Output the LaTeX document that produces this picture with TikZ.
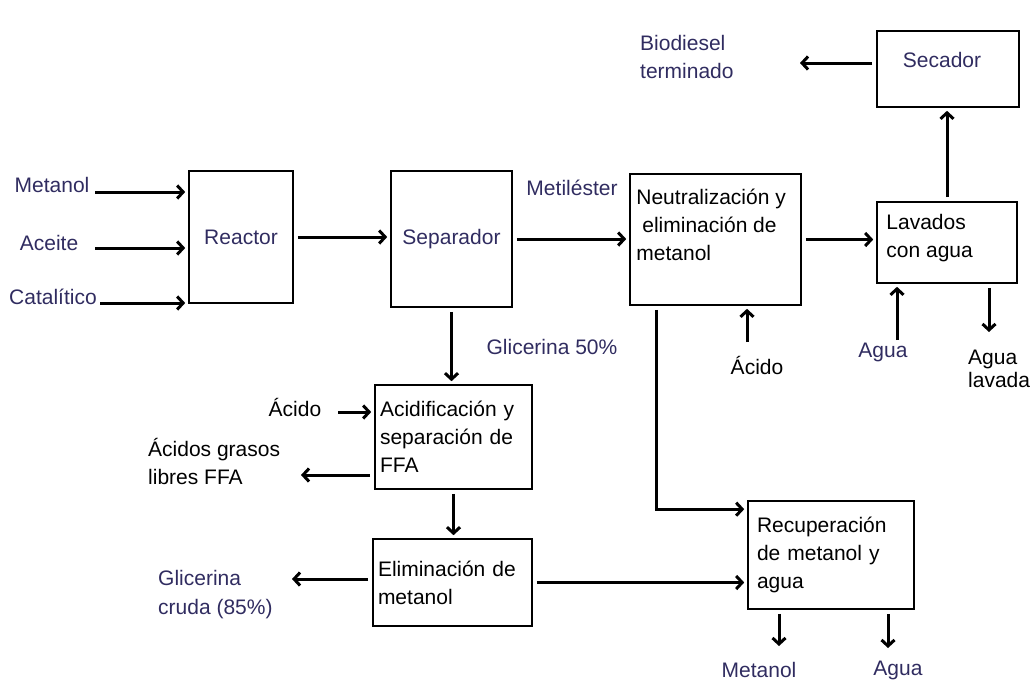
\documentclass[tikz,border=0pt]{standalone}
\usepackage{fontspec}
\setmainfont{Liberation Sans}
\usetikzlibrary{arrows.meta,positioning,calc}
\definecolor{navytxt}{RGB}{48,44,96}

\begin{document}
\begin{tikzpicture}[x=1pt,y=-1pt,
  font=\fontsize{21}{28}\selectfont,
  unit/.style={draw,line width=1.6pt,inner sep=0pt,align=left},
  lbl/.style={inner sep=0pt,align=left},
  flow/.style={line width=3pt,-{Straight Barb[length=6pt,width=13pt]}},
  tobox/.style={shorten >=3pt},
  frombox/.style={shorten <=4pt}]
\useasboundingbox (0,0) rectangle (1030,680);
% process units
\node[unit,text=navytxt,minimum width=104pt,minimum height=132pt] (reactor) at (241,237) {Reactor};
\node[unit,text=navytxt,minimum width=121pt,minimum height=136pt] (separador) at (451.5,239) {Separador};
\node[unit,minimum width=171pt,minimum height=131pt,
  label={[lbl,anchor=north west,xshift=7pt,yshift=-16pt]north west:{Neutralización y\\\hspace*{6pt}eliminación de\\metanol}}] (neutra) at (715.5,239.5) {};
\node[unit,minimum width=140pt,minimum height=81pt,
  label={[lbl,anchor=north west,xshift=10pt,yshift=-13pt]north west:{Lavados\\con agua}}] (lavados) at (947,242.5) {};
\node[unit,minimum width=142pt,minimum height=76pt,
  label={[lbl,text=navytxt,anchor=north,xshift=-6pt,yshift=-22pt]north:Secador}] (secador) at (948,69) {};
\node[unit,minimum width=157pt,minimum height=104pt,text width=147pt] (acid) at (453.5,437) {Acidificación y\\separación de\\FFA};
\node[unit,minimum width=159pt,minimum height=87pt,text width=149pt] (elim) at (452.5,582.5) {Eliminación de\\metanol};
\node[unit,minimum width=166pt,minimum height=108pt,text width=148pt] (recup) at (831,555) {Recuperación\\de metanol y\\agua};

% stream labels
\node[lbl,text=navytxt] (lmet) at (52,185) {Metanol};
\node[lbl,text=navytxt] (lace) at (49,243) {Aceite};
\node[lbl,text=navytxt] (lcat) at (53,297) {Catalítico};
\node[lbl,text=navytxt] (lester) at (572,188) {Metiléster};
\node[lbl,text=navytxt] (lglic) at (552,347) {Glicerina 50\%};
\node[lbl,text=navytxt,anchor=west] (lbio) at (640,57) {Biodiesel\\terminado};
\node[lbl] (lacidn) at (757,365) {Ácido};
\node[lbl,text=navytxt] (laguain) at (883,352) {Agua};
\node[lbl,anchor=west] (lwash) at (968,369) {Agua\\[-5pt]lavada};
\node[lbl] (lacida) at (295,407) {Ácido};
\node[lbl,anchor=west] (lffa) at (148,461) {Ácidos grasos\\libres FFA};
\node[lbl,text=navytxt,anchor=west] (lcruda) at (158,595) {Glicerina\\[1pt]cruda (85\%)};
\node[lbl,text=navytxt] (lmetout) at (759,670) {Metanol};
\node[lbl,text=navytxt] (laguaout) at (898,670) {Agua};

% free ends of the streams
\coordinate (metin) at (95,192);
\coordinate (acein) at (95,248);
\coordinate (catin) at (100,303);
\coordinate (bioout) at (800,63);
\coordinate (acidnin) at (747,342);
\coordinate (aguain) at (897,340);
\coordinate (washout) at (989,332);
\coordinate (acidain) at (338,412);
\coordinate (ffaout) at (301,475);
\coordinate (crudaout) at (292,579);
\coordinate (metout) at (779,646);
\coordinate (aguaout) at (888,648);

% streams
\draw[flow,tobox] (metin) -- (metin -| reactor.west);
\draw[flow,tobox] (acein) -- (acein -| reactor.west);
\draw[flow,tobox] (catin) -- (catin -| reactor.west);
\draw[flow,frombox,tobox] (reactor.east) -- (reactor.east -| separador.west);
\draw[flow,frombox,tobox] (separador.east) -- (separador.east -| neutra.west);
\draw[flow,frombox,tobox] (neutra.east) -- (neutra.east -| lavados.west);
\draw[flow,frombox,tobox] (lavados.north) -- (lavados.north |- secador.south);
\draw[flow,frombox] ([yshift=6pt]secador.west) -- (bioout);
\draw[flow,tobox] (acidnin) -- (acidnin |- neutra.south);
\draw[flow,tobox] (aguain) -- (aguain |- lavados.south);
\draw[flow,frombox] (washout |- lavados.south) -- (washout);
\draw[flow,frombox,tobox] ([xshift=27pt]neutra.south west) |- ([yshift=-9pt]recup.north west);
\draw[flow,frombox,tobox] (separador.south) -- (separador.south |- acid.north);
\draw[flow,tobox] (acidain) -- (acidain -| acid.west);
\draw[flow,frombox] (ffaout -| acid.west) -- (ffaout);
\draw[flow,frombox,tobox] (acid.south) -- (acid.south |- elim.north);
\draw[flow,frombox] (crudaout -| elim.west) -- (crudaout);
\draw[flow,frombox,tobox] (elim.east) -- (elim.east -| recup.west);
\draw[flow,frombox] (metout |- recup.south) -- (metout);
\draw[flow,frombox] (aguaout |- recup.south) -- (aguaout);
\end{tikzpicture}
\end{document}
